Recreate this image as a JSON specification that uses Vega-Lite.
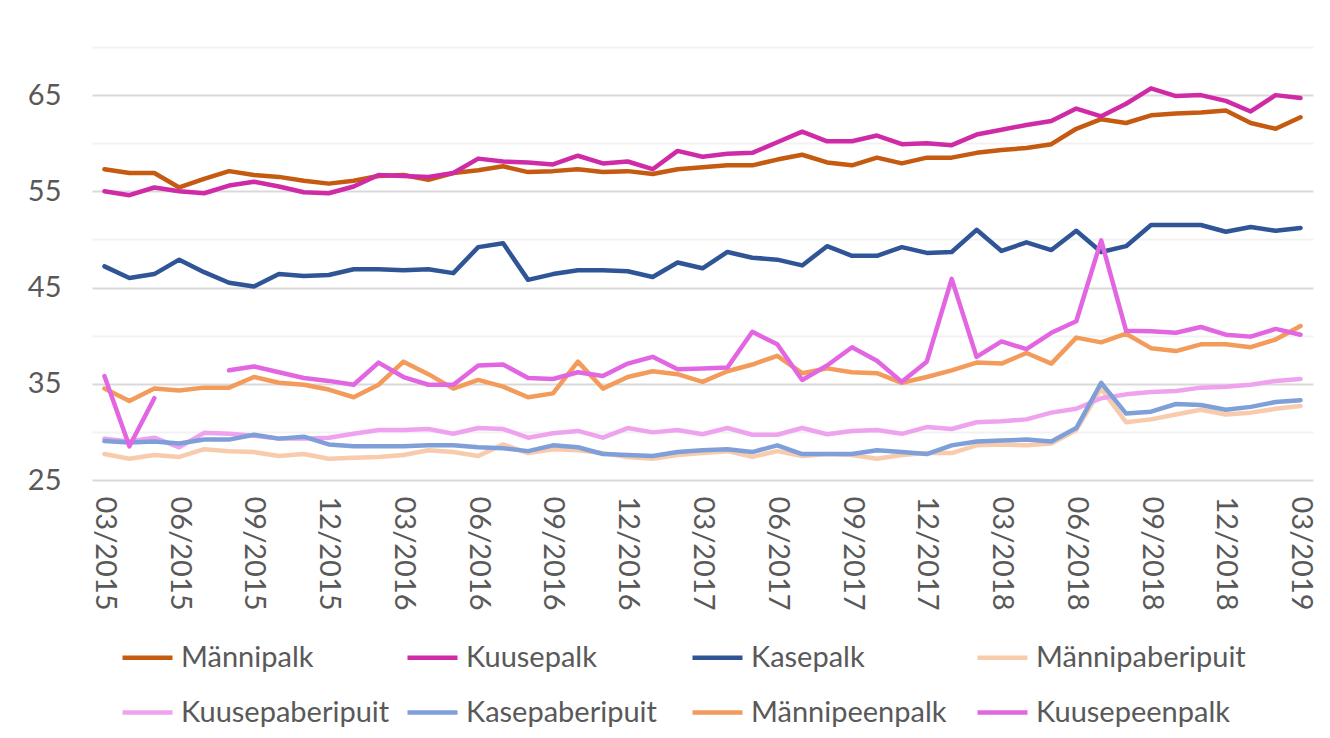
{
  "$schema": "https://vega.github.io/schema/vega-lite/v6.json",
  "autosize": {"type": "none"},
  "width": 1221,
  "height": 433,
  "padding": {"left": 92, "top": 47, "right": 17, "bottom": 258},
  "background": "white",
  "config": {
    "view": {"stroke": null},
    "font": "Lato",
    "line": {"strokeWidth": 4.5},
    "axis": {"labelFont": "Lato", "labelColor": "#595959", "labelFontSize": 29, "domain": false, "ticks": false, "title": null},
    "legend": {"labelFont": "Lato", "labelColor": "#595959", "labelFontSize": 29, "labelLimit": 400}
  },
  "data": {"values": [
{"m":"03/2015","s":"Männipalk","v":57.3},{"m":"04/2015","s":"Männipalk","v":56.9},{"m":"05/2015","s":"Männipalk","v":56.9},{"m":"06/2015","s":"Männipalk","v":55.4},{"m":"07/2015","s":"Männipalk","v":56.3},{"m":"08/2015","s":"Männipalk","v":57.1},{"m":"09/2015","s":"Männipalk","v":56.7},{"m":"10/2015","s":"Männipalk","v":56.5},{"m":"11/2015","s":"Männipalk","v":56.1},{"m":"12/2015","s":"Männipalk","v":55.8},{"m":"01/2016","s":"Männipalk","v":56.1},{"m":"02/2016","s":"Männipalk","v":56.6},{"m":"03/2016","s":"Männipalk","v":56.7},{"m":"04/2016","s":"Männipalk","v":56.2},{"m":"05/2016","s":"Männipalk","v":56.9},{"m":"06/2016","s":"Männipalk","v":57.2},{"m":"07/2016","s":"Männipalk","v":57.6},{"m":"08/2016","s":"Männipalk","v":57.0},{"m":"09/2016","s":"Männipalk","v":57.1},{"m":"10/2016","s":"Männipalk","v":57.3},{"m":"11/2016","s":"Männipalk","v":57.0},{"m":"12/2016","s":"Männipalk","v":57.1},{"m":"01/2017","s":"Männipalk","v":56.8},{"m":"02/2017","s":"Männipalk","v":57.3},{"m":"03/2017","s":"Männipalk","v":57.5},{"m":"04/2017","s":"Männipalk","v":57.7},{"m":"05/2017","s":"Männipalk","v":57.7},{"m":"06/2017","s":"Männipalk","v":58.3},{"m":"07/2017","s":"Männipalk","v":58.8},{"m":"08/2017","s":"Männipalk","v":58.0},{"m":"09/2017","s":"Männipalk","v":57.7},{"m":"10/2017","s":"Männipalk","v":58.5},{"m":"11/2017","s":"Männipalk","v":57.9},{"m":"12/2017","s":"Männipalk","v":58.5},{"m":"01/2018","s":"Männipalk","v":58.5},{"m":"02/2018","s":"Männipalk","v":59.0},{"m":"03/2018","s":"Männipalk","v":59.3},{"m":"04/2018","s":"Männipalk","v":59.5},{"m":"05/2018","s":"Männipalk","v":59.9},{"m":"06/2018","s":"Männipalk","v":61.5},{"m":"07/2018","s":"Männipalk","v":62.5},{"m":"08/2018","s":"Männipalk","v":62.1},{"m":"09/2018","s":"Männipalk","v":62.9},{"m":"10/2018","s":"Männipalk","v":63.1},{"m":"11/2018","s":"Männipalk","v":63.2},{"m":"12/2018","s":"Männipalk","v":63.4},{"m":"01/2019","s":"Männipalk","v":62.1},{"m":"02/2019","s":"Männipalk","v":61.5},{"m":"03/2019","s":"Männipalk","v":62.7},
{"m":"03/2015","s":"Kuusepalk","v":55.0},{"m":"04/2015","s":"Kuusepalk","v":54.6},{"m":"05/2015","s":"Kuusepalk","v":55.4},{"m":"06/2015","s":"Kuusepalk","v":55.0},{"m":"07/2015","s":"Kuusepalk","v":54.8},{"m":"08/2015","s":"Kuusepalk","v":55.6},{"m":"09/2015","s":"Kuusepalk","v":56.0},{"m":"10/2015","s":"Kuusepalk","v":55.5},{"m":"11/2015","s":"Kuusepalk","v":54.9},{"m":"12/2015","s":"Kuusepalk","v":54.8},{"m":"01/2016","s":"Kuusepalk","v":55.5},{"m":"02/2016","s":"Kuusepalk","v":56.7},{"m":"03/2016","s":"Kuusepalk","v":56.6},{"m":"04/2016","s":"Kuusepalk","v":56.5},{"m":"05/2016","s":"Kuusepalk","v":56.9},{"m":"06/2016","s":"Kuusepalk","v":58.4},{"m":"07/2016","s":"Kuusepalk","v":58.1},{"m":"08/2016","s":"Kuusepalk","v":58.0},{"m":"09/2016","s":"Kuusepalk","v":57.8},{"m":"10/2016","s":"Kuusepalk","v":58.7},{"m":"11/2016","s":"Kuusepalk","v":57.9},{"m":"12/2016","s":"Kuusepalk","v":58.1},{"m":"01/2017","s":"Kuusepalk","v":57.3},{"m":"02/2017","s":"Kuusepalk","v":59.2},{"m":"03/2017","s":"Kuusepalk","v":58.6},{"m":"04/2017","s":"Kuusepalk","v":58.9},{"m":"05/2017","s":"Kuusepalk","v":59.0},{"m":"06/2017","s":"Kuusepalk","v":60.1},{"m":"07/2017","s":"Kuusepalk","v":61.2},{"m":"08/2017","s":"Kuusepalk","v":60.2},{"m":"09/2017","s":"Kuusepalk","v":60.2},{"m":"10/2017","s":"Kuusepalk","v":60.8},{"m":"11/2017","s":"Kuusepalk","v":59.9},{"m":"12/2017","s":"Kuusepalk","v":60.0},{"m":"01/2018","s":"Kuusepalk","v":59.8},{"m":"02/2018","s":"Kuusepalk","v":60.9},{"m":"03/2018","s":"Kuusepalk","v":61.4},{"m":"04/2018","s":"Kuusepalk","v":61.9},{"m":"05/2018","s":"Kuusepalk","v":62.3},{"m":"06/2018","s":"Kuusepalk","v":63.6},{"m":"07/2018","s":"Kuusepalk","v":62.8},{"m":"08/2018","s":"Kuusepalk","v":64.1},{"m":"09/2018","s":"Kuusepalk","v":65.7},{"m":"10/2018","s":"Kuusepalk","v":64.9},{"m":"11/2018","s":"Kuusepalk","v":65.0},{"m":"12/2018","s":"Kuusepalk","v":64.4},{"m":"01/2019","s":"Kuusepalk","v":63.3},{"m":"02/2019","s":"Kuusepalk","v":65.0},{"m":"03/2019","s":"Kuusepalk","v":64.7},
{"m":"03/2015","s":"Kasepalk","v":47.2},{"m":"04/2015","s":"Kasepalk","v":46.0},{"m":"05/2015","s":"Kasepalk","v":46.4},{"m":"06/2015","s":"Kasepalk","v":47.9},{"m":"07/2015","s":"Kasepalk","v":46.6},{"m":"08/2015","s":"Kasepalk","v":45.5},{"m":"09/2015","s":"Kasepalk","v":45.1},{"m":"10/2015","s":"Kasepalk","v":46.4},{"m":"11/2015","s":"Kasepalk","v":46.2},{"m":"12/2015","s":"Kasepalk","v":46.3},{"m":"01/2016","s":"Kasepalk","v":46.9},{"m":"02/2016","s":"Kasepalk","v":46.9},{"m":"03/2016","s":"Kasepalk","v":46.8},{"m":"04/2016","s":"Kasepalk","v":46.9},{"m":"05/2016","s":"Kasepalk","v":46.5},{"m":"06/2016","s":"Kasepalk","v":49.2},{"m":"07/2016","s":"Kasepalk","v":49.6},{"m":"08/2016","s":"Kasepalk","v":45.8},{"m":"09/2016","s":"Kasepalk","v":46.4},{"m":"10/2016","s":"Kasepalk","v":46.8},{"m":"11/2016","s":"Kasepalk","v":46.8},{"m":"12/2016","s":"Kasepalk","v":46.7},{"m":"01/2017","s":"Kasepalk","v":46.1},{"m":"02/2017","s":"Kasepalk","v":47.6},{"m":"03/2017","s":"Kasepalk","v":47.0},{"m":"04/2017","s":"Kasepalk","v":48.7},{"m":"05/2017","s":"Kasepalk","v":48.1},{"m":"06/2017","s":"Kasepalk","v":47.9},{"m":"07/2017","s":"Kasepalk","v":47.3},{"m":"08/2017","s":"Kasepalk","v":49.3},{"m":"09/2017","s":"Kasepalk","v":48.3},{"m":"10/2017","s":"Kasepalk","v":48.3},{"m":"11/2017","s":"Kasepalk","v":49.2},{"m":"12/2017","s":"Kasepalk","v":48.6},{"m":"01/2018","s":"Kasepalk","v":48.7},{"m":"02/2018","s":"Kasepalk","v":51.0},{"m":"03/2018","s":"Kasepalk","v":48.8},{"m":"04/2018","s":"Kasepalk","v":49.7},{"m":"05/2018","s":"Kasepalk","v":48.9},{"m":"06/2018","s":"Kasepalk","v":50.9},{"m":"07/2018","s":"Kasepalk","v":48.7},{"m":"08/2018","s":"Kasepalk","v":49.3},{"m":"09/2018","s":"Kasepalk","v":51.5},{"m":"10/2018","s":"Kasepalk","v":51.5},{"m":"11/2018","s":"Kasepalk","v":51.5},{"m":"12/2018","s":"Kasepalk","v":50.8},{"m":"01/2019","s":"Kasepalk","v":51.3},{"m":"02/2019","s":"Kasepalk","v":50.9},{"m":"03/2019","s":"Kasepalk","v":51.2},
{"m":"03/2015","s":"Männipaberipuit","v":27.7},{"m":"04/2015","s":"Männipaberipuit","v":27.2},{"m":"05/2015","s":"Männipaberipuit","v":27.6},{"m":"06/2015","s":"Männipaberipuit","v":27.4},{"m":"07/2015","s":"Männipaberipuit","v":28.2},{"m":"08/2015","s":"Männipaberipuit","v":28.0},{"m":"09/2015","s":"Männipaberipuit","v":27.9},{"m":"10/2015","s":"Männipaberipuit","v":27.5},{"m":"11/2015","s":"Männipaberipuit","v":27.7},{"m":"12/2015","s":"Männipaberipuit","v":27.2},{"m":"01/2016","s":"Männipaberipuit","v":27.3},{"m":"02/2016","s":"Männipaberipuit","v":27.4},{"m":"03/2016","s":"Männipaberipuit","v":27.6},{"m":"04/2016","s":"Männipaberipuit","v":28.1},{"m":"05/2016","s":"Männipaberipuit","v":27.9},{"m":"06/2016","s":"Männipaberipuit","v":27.5},{"m":"07/2016","s":"Männipaberipuit","v":28.7},{"m":"08/2016","s":"Männipaberipuit","v":27.8},{"m":"09/2016","s":"Männipaberipuit","v":28.2},{"m":"10/2016","s":"Männipaberipuit","v":28.1},{"m":"11/2016","s":"Männipaberipuit","v":27.8},{"m":"12/2016","s":"Männipaberipuit","v":27.4},{"m":"01/2017","s":"Männipaberipuit","v":27.2},{"m":"02/2017","s":"Männipaberipuit","v":27.6},{"m":"03/2017","s":"Männipaberipuit","v":27.8},{"m":"04/2017","s":"Männipaberipuit","v":28.0},{"m":"05/2017","s":"Männipaberipuit","v":27.4},{"m":"06/2017","s":"Männipaberipuit","v":28.0},{"m":"07/2017","s":"Männipaberipuit","v":27.5},{"m":"08/2017","s":"Männipaberipuit","v":27.7},{"m":"09/2017","s":"Männipaberipuit","v":27.6},{"m":"10/2017","s":"Männipaberipuit","v":27.2},{"m":"11/2017","s":"Männipaberipuit","v":27.6},{"m":"12/2017","s":"Männipaberipuit","v":27.8},{"m":"01/2018","s":"Männipaberipuit","v":27.8},{"m":"02/2018","s":"Männipaberipuit","v":28.6},{"m":"03/2018","s":"Männipaberipuit","v":28.7},{"m":"04/2018","s":"Männipaberipuit","v":28.6},{"m":"05/2018","s":"Männipaberipuit","v":28.8},{"m":"06/2018","s":"Männipaberipuit","v":30.2},{"m":"07/2018","s":"Männipaberipuit","v":34.5},{"m":"08/2018","s":"Männipaberipuit","v":31.0},{"m":"09/2018","s":"Männipaberipuit","v":31.3},{"m":"10/2018","s":"Männipaberipuit","v":31.8},{"m":"11/2018","s":"Männipaberipuit","v":32.3},{"m":"12/2018","s":"Männipaberipuit","v":31.8},{"m":"01/2019","s":"Männipaberipuit","v":32.0},{"m":"02/2019","s":"Männipaberipuit","v":32.4},{"m":"03/2019","s":"Männipaberipuit","v":32.7},
{"m":"03/2015","s":"Kuusepaberipuit","v":29.3},{"m":"04/2015","s":"Kuusepaberipuit","v":29.0},{"m":"05/2015","s":"Kuusepaberipuit","v":29.4},{"m":"06/2015","s":"Kuusepaberipuit","v":28.4},{"m":"07/2015","s":"Kuusepaberipuit","v":29.9},{"m":"08/2015","s":"Kuusepaberipuit","v":29.8},{"m":"09/2015","s":"Kuusepaberipuit","v":29.6},{"m":"10/2015","s":"Kuusepaberipuit","v":29.3},{"m":"11/2015","s":"Kuusepaberipuit","v":29.3},{"m":"12/2015","s":"Kuusepaberipuit","v":29.4},{"m":"01/2016","s":"Kuusepaberipuit","v":29.8},{"m":"02/2016","s":"Kuusepaberipuit","v":30.2},{"m":"03/2016","s":"Kuusepaberipuit","v":30.2},{"m":"04/2016","s":"Kuusepaberipuit","v":30.3},{"m":"05/2016","s":"Kuusepaberipuit","v":29.8},{"m":"06/2016","s":"Kuusepaberipuit","v":30.4},{"m":"07/2016","s":"Kuusepaberipuit","v":30.3},{"m":"08/2016","s":"Kuusepaberipuit","v":29.4},{"m":"09/2016","s":"Kuusepaberipuit","v":29.85},{"m":"10/2016","s":"Kuusepaberipuit","v":30.1},{"m":"11/2016","s":"Kuusepaberipuit","v":29.4},{"m":"12/2016","s":"Kuusepaberipuit","v":30.4},{"m":"01/2017","s":"Kuusepaberipuit","v":29.95},{"m":"02/2017","s":"Kuusepaberipuit","v":30.2},{"m":"03/2017","s":"Kuusepaberipuit","v":29.75},{"m":"04/2017","s":"Kuusepaberipuit","v":30.4},{"m":"05/2017","s":"Kuusepaberipuit","v":29.7},{"m":"06/2017","s":"Kuusepaberipuit","v":29.7},{"m":"07/2017","s":"Kuusepaberipuit","v":30.4},{"m":"08/2017","s":"Kuusepaberipuit","v":29.75},{"m":"09/2017","s":"Kuusepaberipuit","v":30.1},{"m":"10/2017","s":"Kuusepaberipuit","v":30.2},{"m":"11/2017","s":"Kuusepaberipuit","v":29.8},{"m":"12/2017","s":"Kuusepaberipuit","v":30.5},{"m":"01/2018","s":"Kuusepaberipuit","v":30.3},{"m":"02/2018","s":"Kuusepaberipuit","v":31.0},{"m":"03/2018","s":"Kuusepaberipuit","v":31.1},{"m":"04/2018","s":"Kuusepaberipuit","v":31.3},{"m":"05/2018","s":"Kuusepaberipuit","v":32.0},{"m":"06/2018","s":"Kuusepaberipuit","v":32.4},{"m":"07/2018","s":"Kuusepaberipuit","v":33.5},{"m":"08/2018","s":"Kuusepaberipuit","v":33.9},{"m":"09/2018","s":"Kuusepaberipuit","v":34.15},{"m":"10/2018","s":"Kuusepaberipuit","v":34.25},{"m":"11/2018","s":"Kuusepaberipuit","v":34.6},{"m":"12/2018","s":"Kuusepaberipuit","v":34.7},{"m":"01/2019","s":"Kuusepaberipuit","v":34.9},{"m":"02/2019","s":"Kuusepaberipuit","v":35.3},{"m":"03/2019","s":"Kuusepaberipuit","v":35.5},
{"m":"03/2015","s":"Kasepaberipuit","v":29.05},{"m":"04/2015","s":"Kasepaberipuit","v":28.9},{"m":"05/2015","s":"Kasepaberipuit","v":29.0},{"m":"06/2015","s":"Kasepaberipuit","v":28.8},{"m":"07/2015","s":"Kasepaberipuit","v":29.2},{"m":"08/2015","s":"Kasepaberipuit","v":29.2},{"m":"09/2015","s":"Kasepaberipuit","v":29.7},{"m":"10/2015","s":"Kasepaberipuit","v":29.3},{"m":"11/2015","s":"Kasepaberipuit","v":29.5},{"m":"12/2015","s":"Kasepaberipuit","v":28.7},{"m":"01/2016","s":"Kasepaberipuit","v":28.5},{"m":"02/2016","s":"Kasepaberipuit","v":28.5},{"m":"03/2016","s":"Kasepaberipuit","v":28.5},{"m":"04/2016","s":"Kasepaberipuit","v":28.6},{"m":"05/2016","s":"Kasepaberipuit","v":28.6},{"m":"06/2016","s":"Kasepaberipuit","v":28.4},{"m":"07/2016","s":"Kasepaberipuit","v":28.3},{"m":"08/2016","s":"Kasepaberipuit","v":28.0},{"m":"09/2016","s":"Kasepaberipuit","v":28.6},{"m":"10/2016","s":"Kasepaberipuit","v":28.4},{"m":"11/2016","s":"Kasepaberipuit","v":27.7},{"m":"12/2016","s":"Kasepaberipuit","v":27.6},{"m":"01/2017","s":"Kasepaberipuit","v":27.5},{"m":"02/2017","s":"Kasepaberipuit","v":27.9},{"m":"03/2017","s":"Kasepaberipuit","v":28.1},{"m":"04/2017","s":"Kasepaberipuit","v":28.2},{"m":"05/2017","s":"Kasepaberipuit","v":27.9},{"m":"06/2017","s":"Kasepaberipuit","v":28.6},{"m":"07/2017","s":"Kasepaberipuit","v":27.7},{"m":"08/2017","s":"Kasepaberipuit","v":27.7},{"m":"09/2017","s":"Kasepaberipuit","v":27.7},{"m":"10/2017","s":"Kasepaberipuit","v":28.1},{"m":"11/2017","s":"Kasepaberipuit","v":27.9},{"m":"12/2017","s":"Kasepaberipuit","v":27.7},{"m":"01/2018","s":"Kasepaberipuit","v":28.6},{"m":"02/2018","s":"Kasepaberipuit","v":29.0},{"m":"03/2018","s":"Kasepaberipuit","v":29.1},{"m":"04/2018","s":"Kasepaberipuit","v":29.2},{"m":"05/2018","s":"Kasepaberipuit","v":29.0},{"m":"06/2018","s":"Kasepaberipuit","v":30.4},{"m":"07/2018","s":"Kasepaberipuit","v":35.1},{"m":"08/2018","s":"Kasepaberipuit","v":31.9},{"m":"09/2018","s":"Kasepaberipuit","v":32.1},{"m":"10/2018","s":"Kasepaberipuit","v":32.9},{"m":"11/2018","s":"Kasepaberipuit","v":32.8},{"m":"12/2018","s":"Kasepaberipuit","v":32.3},{"m":"01/2019","s":"Kasepaberipuit","v":32.6},{"m":"02/2019","s":"Kasepaberipuit","v":33.1},{"m":"03/2019","s":"Kasepaberipuit","v":33.3},
{"m":"03/2015","s":"Männipeenpalk","v":34.5},{"m":"04/2015","s":"Männipeenpalk","v":33.2},{"m":"05/2015","s":"Männipeenpalk","v":34.5},{"m":"06/2015","s":"Männipeenpalk","v":34.3},{"m":"07/2015","s":"Männipeenpalk","v":34.6},{"m":"08/2015","s":"Männipeenpalk","v":34.6},{"m":"09/2015","s":"Männipeenpalk","v":35.7},{"m":"10/2015","s":"Männipeenpalk","v":35.1},{"m":"11/2015","s":"Männipeenpalk","v":34.9},{"m":"12/2015","s":"Männipeenpalk","v":34.4},{"m":"01/2016","s":"Männipeenpalk","v":33.6},{"m":"02/2016","s":"Männipeenpalk","v":34.9},{"m":"03/2016","s":"Männipeenpalk","v":37.3},{"m":"04/2016","s":"Männipeenpalk","v":36.0},{"m":"05/2016","s":"Männipeenpalk","v":34.5},{"m":"06/2016","s":"Männipeenpalk","v":35.4},{"m":"07/2016","s":"Männipeenpalk","v":34.7},{"m":"08/2016","s":"Männipeenpalk","v":33.6},{"m":"09/2016","s":"Männipeenpalk","v":34.0},{"m":"10/2016","s":"Männipeenpalk","v":37.3},{"m":"11/2016","s":"Männipeenpalk","v":34.5},{"m":"12/2016","s":"Männipeenpalk","v":35.7},{"m":"01/2017","s":"Männipeenpalk","v":36.3},{"m":"02/2017","s":"Männipeenpalk","v":36.0},{"m":"03/2017","s":"Männipeenpalk","v":35.2},{"m":"04/2017","s":"Männipeenpalk","v":36.3},{"m":"05/2017","s":"Männipeenpalk","v":37.0},{"m":"06/2017","s":"Männipeenpalk","v":37.9},{"m":"07/2017","s":"Männipeenpalk","v":36.1},{"m":"08/2017","s":"Männipeenpalk","v":36.6},{"m":"09/2017","s":"Männipeenpalk","v":36.2},{"m":"10/2017","s":"Männipeenpalk","v":36.1},{"m":"11/2017","s":"Männipeenpalk","v":35.1},{"m":"12/2017","s":"Männipeenpalk","v":35.7},{"m":"01/2018","s":"Männipeenpalk","v":36.4},{"m":"02/2018","s":"Männipeenpalk","v":37.2},{"m":"03/2018","s":"Männipeenpalk","v":37.1},{"m":"04/2018","s":"Männipeenpalk","v":38.2},{"m":"05/2018","s":"Männipeenpalk","v":37.1},{"m":"06/2018","s":"Männipeenpalk","v":39.8},{"m":"07/2018","s":"Männipeenpalk","v":39.3},{"m":"08/2018","s":"Männipeenpalk","v":40.2},{"m":"09/2018","s":"Männipeenpalk","v":38.7},{"m":"10/2018","s":"Männipeenpalk","v":38.4},{"m":"11/2018","s":"Männipeenpalk","v":39.1},{"m":"12/2018","s":"Männipeenpalk","v":39.1},{"m":"01/2019","s":"Männipeenpalk","v":38.8},{"m":"02/2019","s":"Männipeenpalk","v":39.6},{"m":"03/2019","s":"Männipeenpalk","v":41.0},
{"m":"03/2015","s":"Kuusepeenpalk","v":35.8},{"m":"04/2015","s":"Kuusepeenpalk","v":28.5},{"m":"05/2015","s":"Kuusepeenpalk","v":33.5},{"m":"06/2015","s":"Kuusepeenpalk","v":null},{"m":"07/2015","s":"Kuusepeenpalk","v":null},{"m":"08/2015","s":"Kuusepeenpalk","v":36.4},{"m":"09/2015","s":"Kuusepeenpalk","v":36.8},{"m":"10/2015","s":"Kuusepeenpalk","v":36.2},{"m":"11/2015","s":"Kuusepeenpalk","v":35.6},{"m":"12/2015","s":"Kuusepeenpalk","v":35.3},{"m":"01/2016","s":"Kuusepeenpalk","v":34.9},{"m":"02/2016","s":"Kuusepeenpalk","v":37.2},{"m":"03/2016","s":"Kuusepeenpalk","v":35.7},{"m":"04/2016","s":"Kuusepeenpalk","v":34.9},{"m":"05/2016","s":"Kuusepeenpalk","v":34.9},{"m":"06/2016","s":"Kuusepeenpalk","v":36.9},{"m":"07/2016","s":"Kuusepeenpalk","v":37.0},{"m":"08/2016","s":"Kuusepeenpalk","v":35.6},{"m":"09/2016","s":"Kuusepeenpalk","v":35.5},{"m":"10/2016","s":"Kuusepeenpalk","v":36.2},{"m":"11/2016","s":"Kuusepeenpalk","v":35.8},{"m":"12/2016","s":"Kuusepeenpalk","v":37.1},{"m":"01/2017","s":"Kuusepeenpalk","v":37.8},{"m":"02/2017","s":"Kuusepeenpalk","v":36.5},{"m":"03/2017","s":"Kuusepeenpalk","v":36.6},{"m":"04/2017","s":"Kuusepeenpalk","v":36.7},{"m":"05/2017","s":"Kuusepeenpalk","v":40.4},{"m":"06/2017","s":"Kuusepeenpalk","v":39.1},{"m":"07/2017","s":"Kuusepeenpalk","v":35.4},{"m":"08/2017","s":"Kuusepeenpalk","v":36.9},{"m":"09/2017","s":"Kuusepeenpalk","v":38.8},{"m":"10/2017","s":"Kuusepeenpalk","v":37.4},{"m":"11/2017","s":"Kuusepeenpalk","v":35.2},{"m":"12/2017","s":"Kuusepeenpalk","v":37.3},{"m":"01/2018","s":"Kuusepeenpalk","v":45.9},{"m":"02/2018","s":"Kuusepeenpalk","v":37.8},{"m":"03/2018","s":"Kuusepeenpalk","v":39.4},{"m":"04/2018","s":"Kuusepeenpalk","v":38.6},{"m":"05/2018","s":"Kuusepeenpalk","v":40.3},{"m":"06/2018","s":"Kuusepeenpalk","v":41.5},{"m":"07/2018","s":"Kuusepeenpalk","v":49.9},{"m":"08/2018","s":"Kuusepeenpalk","v":40.5},{"m":"09/2018","s":"Kuusepeenpalk","v":40.45},{"m":"10/2018","s":"Kuusepeenpalk","v":40.3},{"m":"11/2018","s":"Kuusepeenpalk","v":40.9},{"m":"12/2018","s":"Kuusepeenpalk","v":40.1},{"m":"01/2019","s":"Kuusepeenpalk","v":39.9},{"m":"02/2019","s":"Kuusepeenpalk","v":40.7},{"m":"03/2019","s":"Kuusepeenpalk","v":40.1}
  ]},
  "mark": {"type": "line", "strokeWidth": 4.5, "strokeCap": "round", "strokeJoin": "round", "invalid": "break-paths-show-domains"},
  "encoding": {
    "x": {
      "field": "m", "type": "ordinal", "sort": null,
      "scale": {"type": "point", "padding": 0.5},
      "axis": {
        "values": ["03/2015","06/2015","09/2015","12/2015","03/2016","06/2016","09/2016","12/2016","03/2017","06/2017","09/2017","12/2017","03/2018","06/2018","09/2018","12/2018","03/2019"],
        "labelAngle": 90, "labelPadding": 16, "grid": false
      }
    },
    "y": {
      "field": "v", "type": "quantitative",
      "scale": {"domain": [25, 70], "nice": false, "zero": false},
      "axis": {
        "values": [25,30,35,40,45,50,55,60,65,70],
        "labelExpr": "datum.value % 10 == 5 ? datum.label : ''",
        "labelPadding": 31,
        "grid": true,
        "gridWidth": 2,
        "gridColor": {"condition": {"test": "datum.value % 10 == 5", "value": "#d9d9d9"}, "value": "#f2f2f2"}
      }
    },
    "strokeWidth": {"value": 4.5},
    "color": {
      "field": "s", "type": "nominal", "sort": null,
      "scale": {
        "domain": ["Männipalk","Kuusepalk","Kasepalk","Männipaberipuit","Kuusepaberipuit","Kasepaberipuit","Männipeenpalk","Kuusepeenpalk"],
        "range": ["#C55A11","#D02BA7","#2F5597","#F8CBAD","#EFA2EE","#7F9FD8","#F29B5A","#E266E2"]
      },
      "legend": {
        "title": null, "orient": "none", "legendX": 28, "legendY": 583,
        "direction": "horizontal", "columns": 4, "gridAlign": "all",
        "columnPadding": 7, "rowPadding": 12,
        "symbolType": "stroke", "symbolSize": 2500, "symbolStrokeWidth": 5, "labelOffset": 6
      }
    }
  }
}
